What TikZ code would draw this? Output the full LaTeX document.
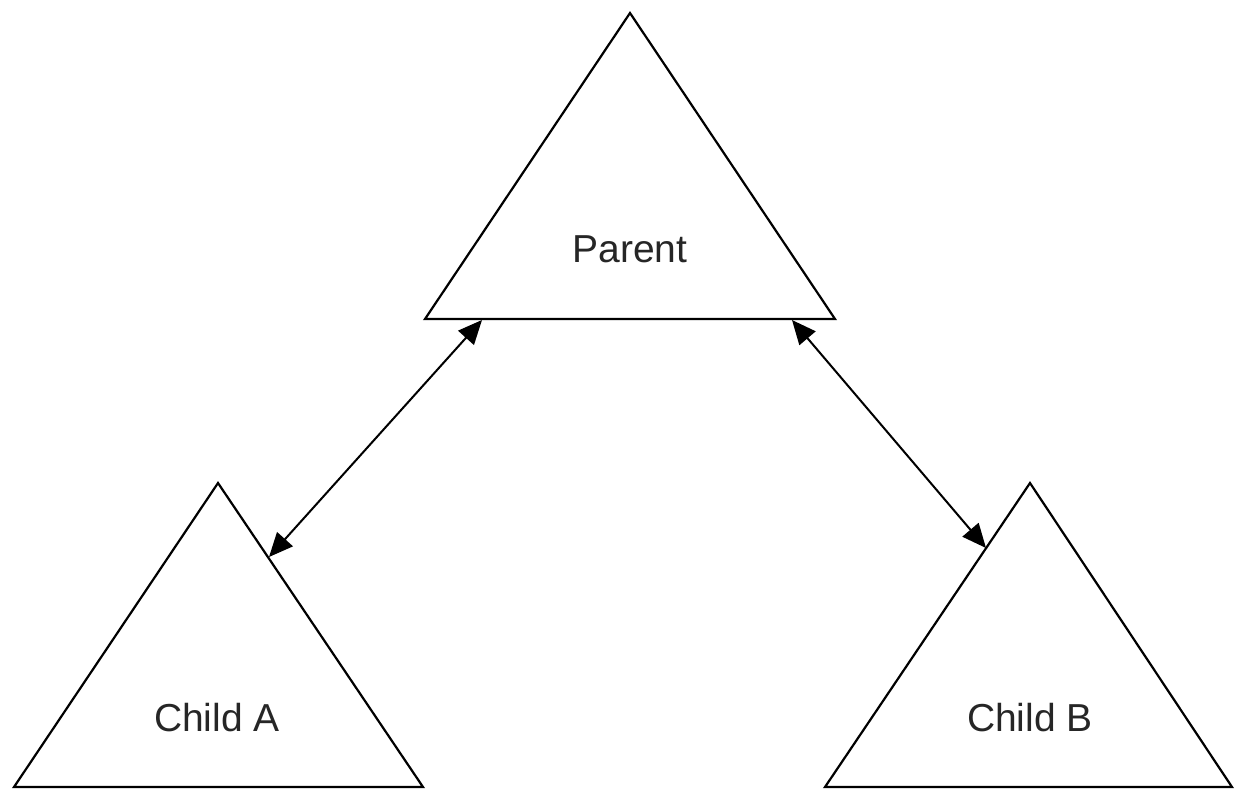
\documentclass[tikz,border=0pt]{standalone}
\usepackage{fontspec}
\setmainfont{Liberation Sans}
\usetikzlibrary{arrows.meta}
\begin{document}
\begin{tikzpicture}[x=1pt,y=-1pt,
  tri/.style={draw=black,line width=2.2pt,line join=miter},
  lbl/.style={font=\fontsize{39}{44}\selectfont,text=black!85,inner sep=0pt,anchor=base},
  link/.style={draw=black,line width=2pt,{Triangle[length=24pt,width=21pt]}-{Triangle[length=24pt,width=21pt]}}]
\useasboundingbox (0,0) rectangle (1235,790);
% Parent
\coordinate (pT) at (630,13);
\coordinate (pL) at (425,319);
\coordinate (pR) at (835,319);
\draw[tri] (pT) -- (pL) -- (pR) -- cycle;
\node[lbl] (parent) at (630,262) {Parent};
% Child A
\coordinate (aT) at (218,483);
\coordinate (aL) at (14,787);
\coordinate (aR) at (423,787);
\draw[tri] (aT) -- (aL) -- (aR) -- cycle;
\node[lbl] (childA) at (217,731) {Child A};
% Child B
\coordinate (bT) at (1030,483);
\coordinate (bL) at (825,787);
\coordinate (bR) at (1232,787);
\draw[tri] (bT) -- (bL) -- (bR) -- cycle;
\node[lbl] (childB) at (1030,731) {Child B};
% connectors
\coordinate (p1) at (482,320);
\coordinate (a1) at (269,557);
\coordinate (p2) at (792,320);
\coordinate (b1) at (986,548);
\draw[link] (p1) -- (a1);
\draw[link] (p2) -- (b1);
\end{tikzpicture}
\end{document}
